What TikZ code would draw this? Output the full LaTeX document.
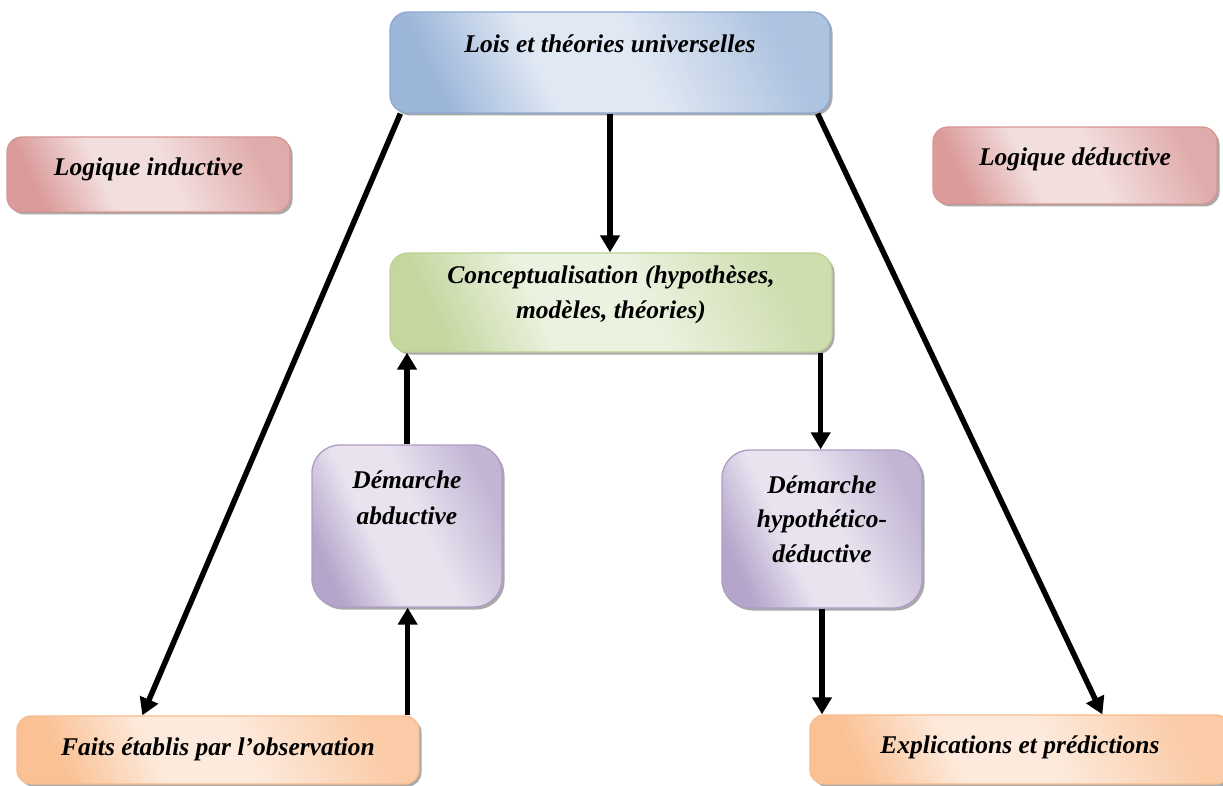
\documentclass[tikz,border=0pt]{standalone}
\usepackage{fontspec}
\setmainfont{Liberation Serif}
\usetikzlibrary{shadows,arrows.meta,calc}

% Office-like accent tints: edge, dark and light gradient stops
\definecolor{blueedge}{HTML}{8DA9D3}
\definecolor{bluedk}{HTML}{9CB6DA}
\definecolor{bluelt}{HTML}{E0E8F3}
\definecolor{rededge}{HTML}{D79694}
\definecolor{reddk}{HTML}{DA9B9A}
\definecolor{redlt}{HTML}{F3DEDE}
\definecolor{greenedge}{HTML}{BDD293}
\definecolor{greendk}{HTML}{C4D79F}
\definecolor{greenlt}{HTML}{ECF2E0}
\definecolor{purpleedge}{HTML}{AE9DC5}
\definecolor{purpledk}{HTML}{B5A5CB}
\definecolor{purplelt}{HTML}{E8E3EF}
\definecolor{orangeedge}{HTML}{F9BC8C}
\definecolor{orangedk}{HTML}{FAC195}
\definecolor{orangelt}{HTML}{FDEADC}

% dark edge, light streak, softer opposite side
\newcommand\makecardshade[3]{%
  \pgfdeclarehorizontalshading{#1}{100bp}{color(0bp)=(#2); color(25bp)=(#2);
    color(40bp)=(#3); color(54bp)=(#3); color(75bp)=(#2!75!#3); color(100bp)=(#2!75!#3)}}
\makecardshade{blueshade}{bluedk}{bluelt}
\makecardshade{redshade}{reddk}{redlt}
\makecardshade{greenshade}{greendk}{greenlt}
\makecardshade{purpleshade}{purpledk}{purplelt}
\makecardshade{orangeshade}{orangedk}{orangelt}

\tikzset{
  card/.style={rectangle, rounded corners=#1, line width=1.3pt, inner sep=0pt,
    drop shadow={shadow xshift=2.5pt, shadow yshift=-2.5pt, fill=black!45, opacity=.75}},
  card/.default=16pt,
  tinted/.style 2 args={draw=#1, shade, shading=#2, shading angle=25},
  bluecard/.style={card=18pt, tinted={blueedge}{blueshade}},
  redcard/.style={card=15pt, tinted={rededge}{redshade}},
  greencard/.style={card=18pt, tinted={greenedge}{greenshade}},
  purplecard/.style={card=28pt, tinted={purpleedge}{purpleshade}},
  orangecard/.style={card=14pt, tinted={orangeedge}{orangeshade}},
  txt/.style={font=\fontsize{25.5}{34.5}\selectfont\bfseries\itshape, align=center, inner sep=0pt},
  arr/.style={line width=5.5pt, -{Triangle[width=19pt,length=17pt]}}
}

\begin{document}
\begin{tikzpicture}[x=1pt,y=-1pt]
\useasboundingbox (0,0) rectangle (1223,786);

% boxes
\node[bluecard,   minimum width=440pt, minimum height=101pt] (lois)    at (610,62.5)   {};
\node[redcard,    minimum width=283pt, minimum height=75pt]  (induct)  at (148.5,174.5) {};
\node[redcard,    minimum width=284pt, minimum height=77pt]  (deduct)  at (1075,165.5) {};
\node[greencard,  minimum width=442pt, minimum height=99pt]  (concept) at (611,302.5)  {};
\node[purplecard, minimum width=190pt, minimum height=162pt] (abduct)  at (407,526)    {};
\node[purplecard, minimum width=200pt, minimum height=158pt] (hypo)    at (822,529)    {};
\node[orangecard, minimum width=402pt, minimum height=68pt]  (faits)   at (218,750)    {};
\node[orangecard, minimum width=420pt, minimum height=69pt]  (expl)    at (1020,749.5) {};

% box texts
\node[txt] (loist)    at ($(lois.north)+(0,32)$)      {Lois et théories universelles};
\node[txt] (inductt)  at ($(induct.center)+(0,-5.5)$) {Logique inductive};
\node[txt] (deductt)  at ($(deduct.center)+(0,-6.5)$) {Logique déductive};
\node[txt] (conceptt) at ($(concept.center)+(0,-7.5)$) {Conceptualisation (hypothèses,\\modèles, théories)};
\node[txt, font=\fontsize{25.5}{36}\selectfont\bfseries\itshape] (abductt) at ($(abduct.center)+(0,-28)$) {Démarche\\abductive};
\node[txt] (hypot)    at ($(hypo.center)+(0,-10)$)    {Démarche\\hypothético-\\déductive};
\node[txt] (faitst)   at ($(faits.center)+(0,-1)$)    {Faits établis par l’observation};
\node[txt] (explt)    at ($(expl.center)+(0,-2.5)$)   {Explications et prédictions};

% connectors
\draw[arr] ([xshift=11pt]lois.south west) -- ([xshift=126pt]faits.north west);
\draw[arr] ([xshift=-13pt]lois.south east) -- ([xshift=293pt]expl.north west);
\draw[arr] (lois.south) -- (lois.south |- concept.north);
\draw[arr] (abduct.north) -- (abduct.north |- concept.south);
\draw[arr] ([xshift=-12pt]faits.north east) -- ([xshift=-12pt]faits.north east |- abduct.south);
\draw[arr] ([xshift=-12pt]concept.south east) -- ([xshift=-12pt]concept.south east |- hypo.north);
\draw[arr] (hypo.south) -- (hypo.south |- expl.north);
\end{tikzpicture}
\end{document}
